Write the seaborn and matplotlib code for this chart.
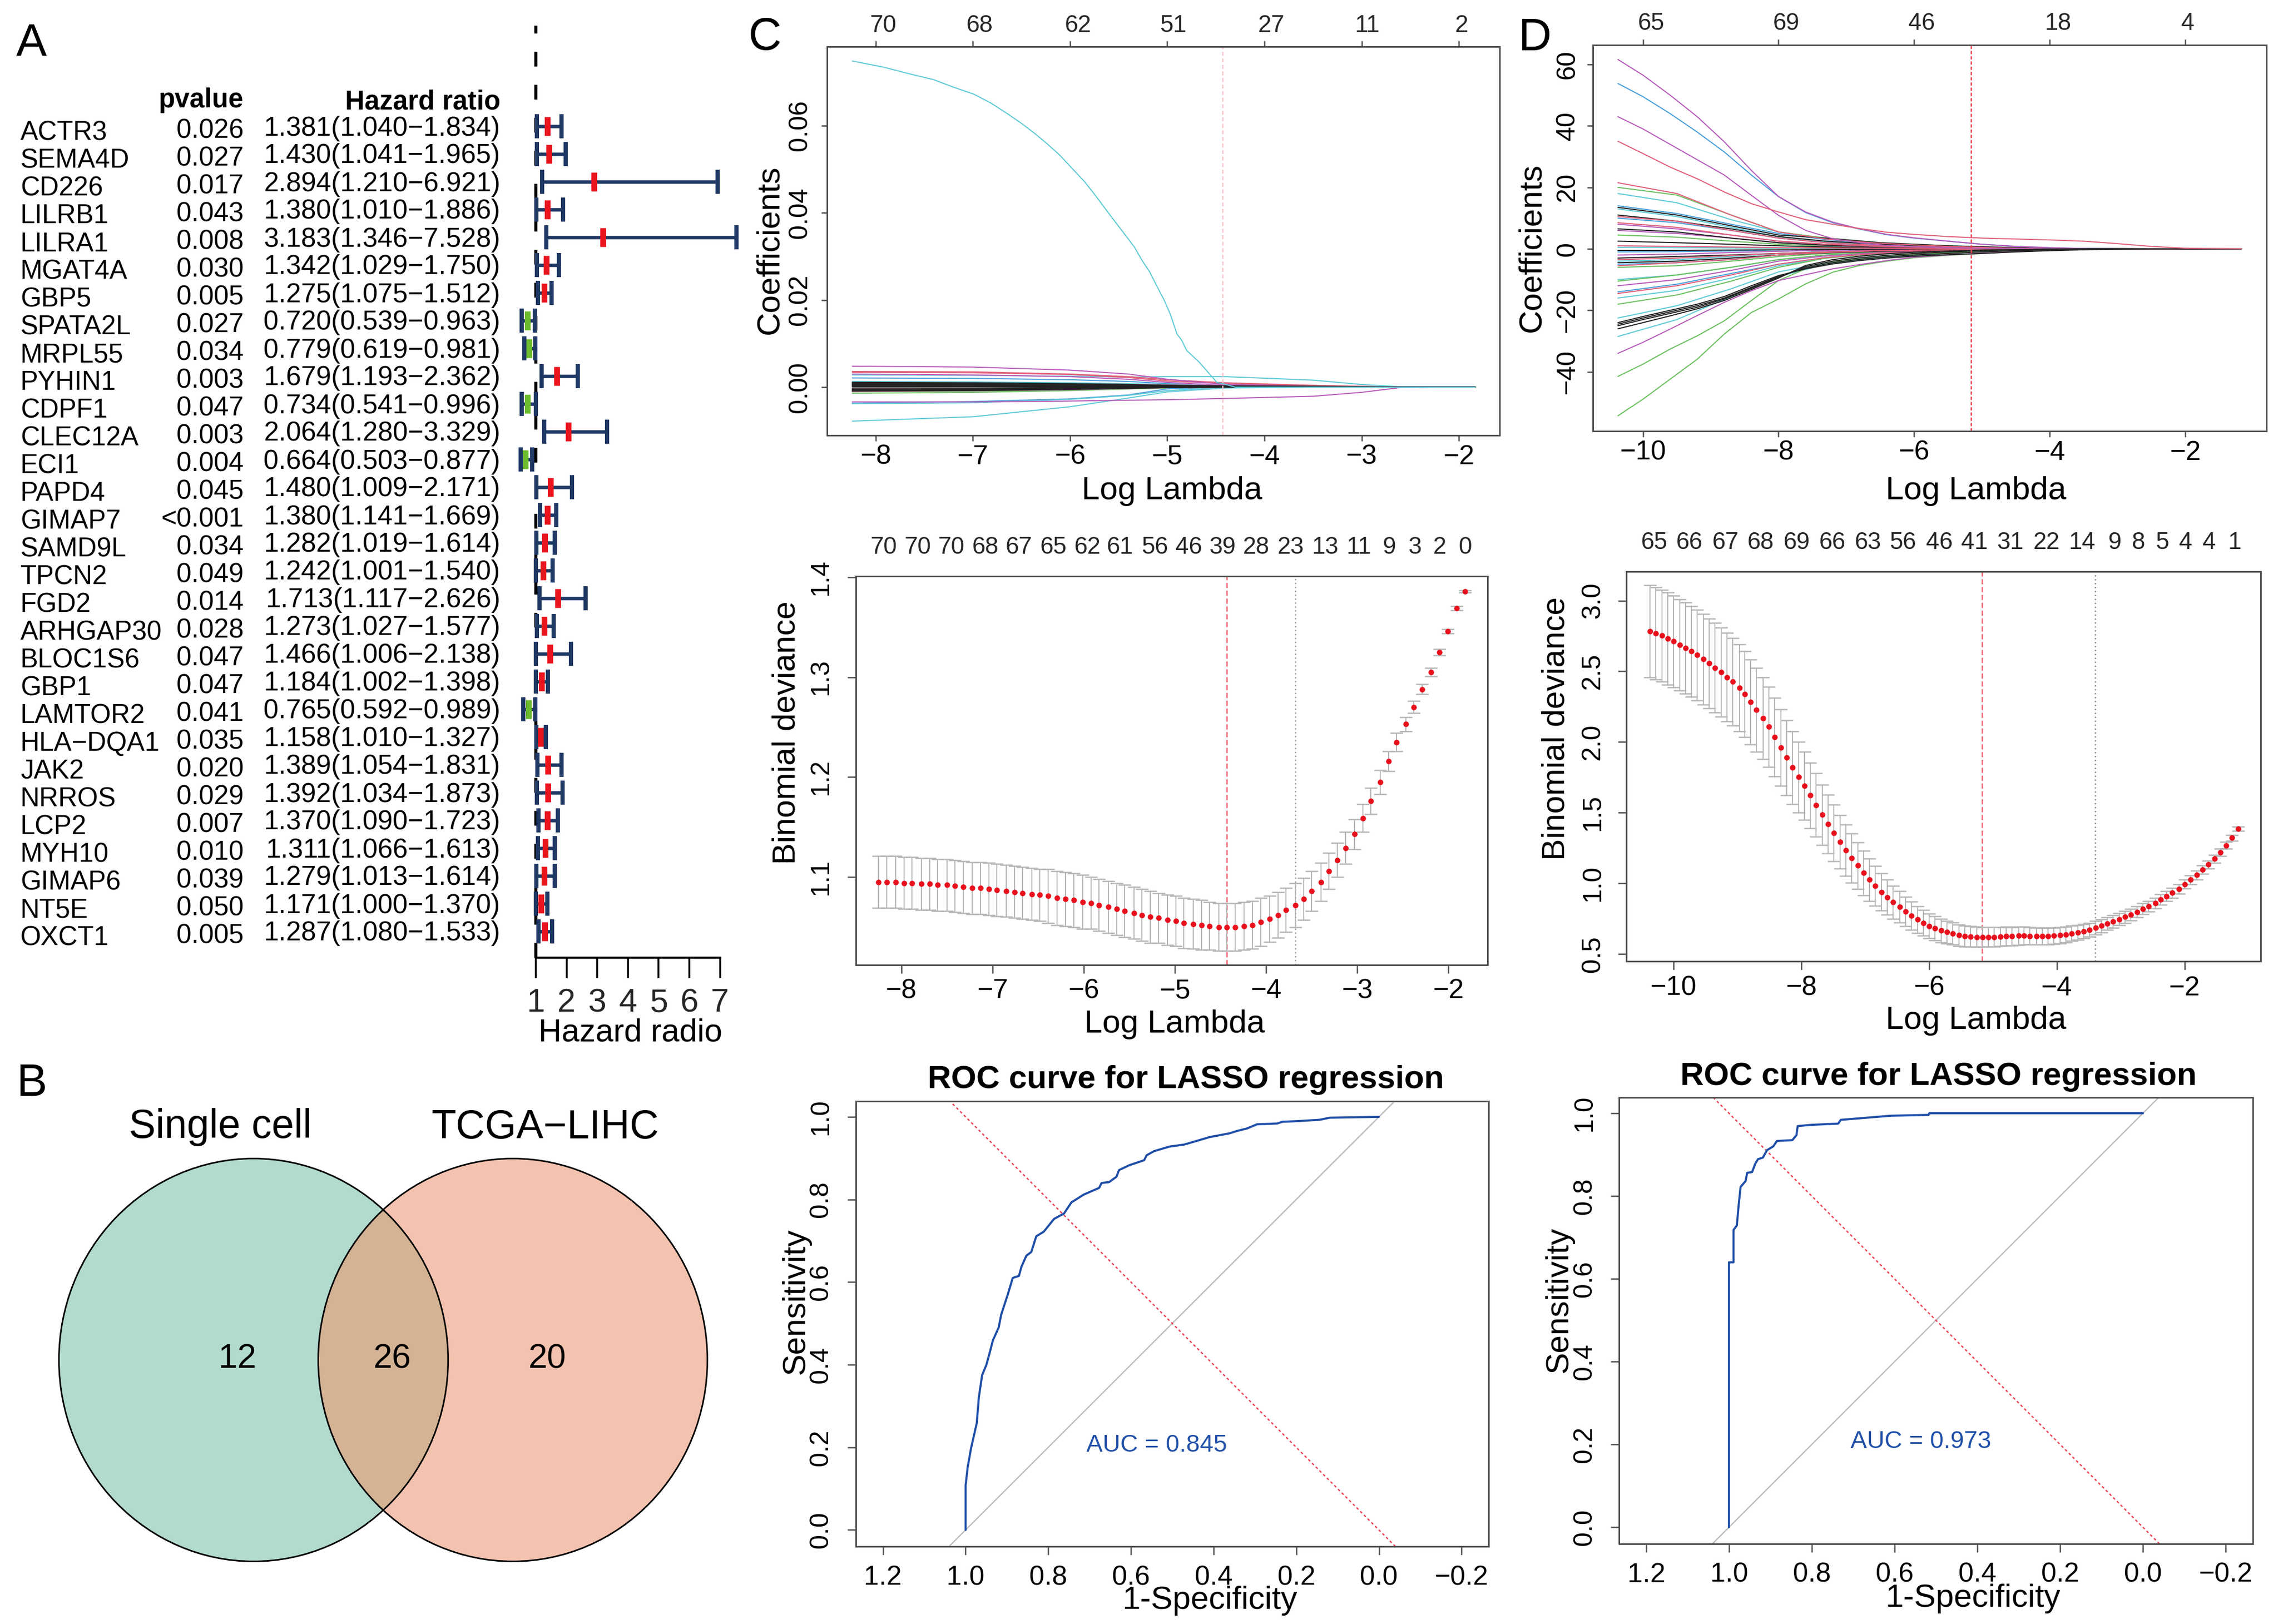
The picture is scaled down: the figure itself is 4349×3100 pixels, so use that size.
import numpy as np
import matplotlib
matplotlib.use('Agg')
import matplotlib.pyplot as plt
from matplotlib.patches import Ellipse
import seaborn as sns

W, H = 4349, 3100
DPI = 300

# Panel A: forest plot
genes = ['ACTR3', 'SEMA4D', 'CD226', 'LILRB1', 'LILRA1', 'MGAT4A', 'GBP5', 'SPATA2L', 'MRPL55', 'PYHIN1',
         'CDPF1', 'CLEC12A', 'ECI1', 'PAPD4', 'GIMAP7', 'SAMD9L', 'TPCN2', 'FGD2', 'ARHGAP30', 'BLOC1S6',
         'GBP1', 'LAMTOR2', 'HLA\u2212DQA1', 'JAK2', 'NRROS', 'LCP2', 'MYH10', 'GIMAP6', 'NT5E', 'OXCT1']
pvalues = ['0.026', '0.027', '0.017', '0.043', '0.008', '0.030', '0.005', '0.027', '0.034', '0.003',
           '0.047', '0.003', '0.004', '0.045', '<0.001', '0.034', '0.049', '0.014', '0.028', '0.047',
           '0.047', '0.041', '0.035', '0.020', '0.029', '0.007', '0.010', '0.039', '0.050', '0.005']
hr = [1.381, 1.430, 2.894, 1.380, 3.183, 1.342, 1.275, 0.720, 0.779, 1.679,
      0.734, 2.064, 0.664, 1.480, 1.380, 1.282, 1.242, 1.713, 1.273, 1.466,
      1.184, 0.765, 1.158, 1.389, 1.392, 1.370, 1.311, 1.279, 1.171, 1.287]
hr_low = [1.040, 1.041, 1.210, 1.010, 1.346, 1.029, 1.075, 0.539, 0.619, 1.193,
          0.541, 1.280, 0.503, 1.009, 1.141, 1.019, 1.001, 1.117, 1.027, 1.006,
          1.002, 0.592, 1.010, 1.054, 1.034, 1.090, 1.066, 1.013, 1.000, 1.080]
hr_high = [1.834, 1.965, 6.921, 1.886, 7.528, 1.750, 1.512, 0.963, 0.981, 2.362,
           0.996, 3.329, 0.877, 2.171, 1.669, 1.614, 1.540, 2.626, 1.577, 2.138,
           1.398, 0.989, 1.327, 1.831, 1.873, 1.723, 1.613, 1.614, 1.370, 1.533]

# Panel B: venn counts
venn_names = ['Single cell', 'TCGA\u2212LIHC']
venn_counts = ['12', '26', '20']

# Panel C: coefficient paths
c_main_lambda = [-8.24, -7.92, -7.66, -7.40, -7.20, -6.99, -6.81, -6.63, -6.50, -6.37, -6.24, -6.11, -5.98, -5.85,
                 -5.73, -5.60, -5.47, -5.34, -5.26, -5.18, -5.11, -5.03, -4.97, -4.90, -4.85, -4.80, -4.67, -4.49,
                 -4.38, -4.30, -1.83]
c_main_coef = [0.0748, 0.0734, 0.0719, 0.0705, 0.0688, 0.0672, 0.0651, 0.0625, 0.0605, 0.0583, 0.0559, 0.0533,
               0.0502, 0.0471, 0.0437, 0.0398, 0.0360, 0.0322, 0.0291, 0.0264, 0.0233, 0.0199, 0.0168, 0.0122,
               0.0107, 0.0084, 0.0057, 0.0011, 0.0005, 0.0, 0.0]
c_lambda = [-8.24, -7, -6, -5.4, -5, -4.4, -3.5, -3, -2.6, -2.2, -1.83]
c_black = [[.0011, .0010, .0008, .0006, .0004, .0003, .0002, .0001, 0, 0, 0],
           [.0009, .0008, .0007, .0005, .0004, .0002, .0001, 0, 0, 0, 0],
           [.0007, .0006, .0005, .0003, .0002, .0001, 0, 0, 0, 0, 0],
           [.0005, .0005, .0004, .0002, .0001, 0, 0, 0, 0, 0, 0],
           [.0003, .0003, .0002, .0001, 0, 0, 0, 0, 0, 0, 0],
           [.0001, .0001, .0001, 0, 0, 0, 0, 0, 0, 0, 0],
           [-.0002, -.0002, -.0001, -.0001, 0, 0, 0, 0, 0, 0, 0],
           [-.0005, -.0004, -.0003, -.0002, -.0001, 0, 0, 0, 0, 0, 0],
           [-.0007, -.0006, -.0004, -.0002, -.0001, 0, 0, 0, 0, 0, 0],
           [-.0009, -.0008, -.0005, -.0003, -.0001, 0, 0, 0, 0, 0, 0]]
c_red = [[.0036, .0035, .0030, .0024, .0017, .0010, .0004, .0002, 0, 0, 0],
         [.0034, .0033, .0029, .0022, .0014, .0008, .0003, .0002, 0, 0, 0],
         [.0009, .0008, .0007, .0006, .0005, .0003, .0002, .0001, 0, 0, 0],
         [.0006, .0005, .0004, .0003, .0002, .0001, 0, 0, 0, 0, 0],
         [.0004, .0004, .0003, .0002, .0001, 0, 0, 0, 0, 0, 0],
         [-.0004, -.0003, -.0002, -.0001, 0, 0, 0, 0, 0, 0, 0],
         [-.0007, -.0006, -.0004, -.0002, -.0001, 0, 0, 0, 0, 0, 0],
         [-.0010, -.0008, -.0005, -.0003, -.0001, 0, 0, 0, 0, 0, 0]]
c_green = [[.0008, .0007, .0006, .0004, .0002, .0001, 0, 0, 0, 0, 0],
           [.0002, .0002, .0001, .0001, 0, 0, 0, 0, 0, 0, 0],
           [-.0006, -.0005, -.0004, -.0002, -.0001, 0, 0, 0, 0, 0, 0],
           [-.0010, -.0009, -.0007, -.0004, -.0002, -.0001, 0, 0, 0, 0, 0],
           [-.0014, -.0012, -.0008, -.0004, -.0002, 0, 0, 0, 0, 0, 0]]
c_blue = [[.0021, .0020, .0017, .0013, .0008, .0002, 0, 0, 0, 0, 0],
          [.0010, .0009, .0007, .0005, .0003, .0001, 0, 0, 0, 0, 0],
          [.0006, .0006, .0005, .0003, .0002, .0001, 0, 0, 0, 0, 0],
          [-.0003, -.0003, -.0002, -.0001, 0, 0, 0, 0, 0, 0, 0],
          [-.0008, -.0007, -.0005, -.0003, -.0001, 0, 0, 0, 0, 0, 0],
          [-.0037, -.0033, -.0027, -.0018, -.0004, 0, 0, 0, 0, 0, 0]]
c_cyan = [[.0028, .0027, .0025, .0023, .0024, .0024, .0016, .0006, .0001, 0, 0],
          [.0013, .0012, .0010, .0008, .0006, .0002, 0, 0, 0, 0, 0],
          [-.0004, -.0004, -.0003, -.0002, -.0001, 0, 0, 0, 0, 0, 0],
          [-.0038, -.0036, -.0028, -.0019, -.0008, -.0001, 0, 0, 0, 0, 0],
          [-.0078, -.0068, -.0045, -.0025, -.0011, -.0002, 0, 0, 0, 0, 0]]
c_magenta = [[.0048, .0046, .0039, .0030, .0018, .0006, .0002, 0, 0, 0, 0],
             [.0030, .0028, .0024, .0018, .0011, .0004, .0001, 0, 0, 0, 0],
             [.0005, .0005, .0004, .0002, .0001, 0, 0, 0, 0, 0, 0],
             [-.0009, -.0008, -.0006, -.0003, -.0001, 0, 0, 0, 0, 0, 0],
             [-.0034, -.0034, -.0032, -.0030, -.0029, -.0026, -.0021, -.0012, -.0001, 0, 0]]
c_top_labels = ['70', '68', '62', '51', '27', '11', '2']
c_top_pos = [-7.92, -6.93, -5.92, -4.94, -3.93, -2.94, -1.97]

# Panel D: coefficient paths, the far out paths read on a finer grid
d_fine_lambda = [-10.37, -10, -9.6, -9.2, -8.8, -8.4, -8, -7.6, -7.2, -6.8, -6.4, -6, -5.5, -5, -4.5, -4, -3.5, -3,
                 -2.5, -2, -1.17]
d_fine_magenta = [[61.6, 56.5, 50, 43, 34.8, 25.5, 17, 12, 8.7, 6.5, 4.7, 3.6, 2.5, 1.5, .8, .4, .1, 0, 0, 0, 0],
                  [43, 39, 34, 29, 24, 17.4, 10.9, 6, 3.3, 2, 1.1, .7, .4, .2, .1, 0, 0, 0, 0, 0, 0],
                  [-34, -30.4, -26.1, -21.7, -17.4, -13.6, -10.3, -8.4, -6.5, -5.1, -3.8, -2.7, -2, -1.4, -.9, -.5,
                   -.2, 0, 0, 0, 0]]
d_fine_blue = [[53.8, 49.5, 44, 38, 31.5, 24, 17, 11.8, 8.5, 6.4, 4.6, 3.5, 2.5, 1.5, .8, .4, .1, 0, 0, 0, 0]]
d_fine_red = [[35, 31, 26.6, 22.8, 18.5, 14.7, 12, 9.5, 8, 6.6, 5.4, 4.7, 4, 3.5, 3.2, 2.9, 2.5, 1.7, .8, .2, 0]]
d_fine_green = [[-54.3, -48.9, -42.4, -35.9, -27.7, -20.7, -16.3, -11.4, -7.6, -5.4, -4, -2.9, -2.1, -1.5, -.9, -.5,
                 -.2, 0, 0, 0, 0],
                [-41.5, -37.5, -32.6, -28.3, -23.4, -16.8, -10.3, -6.5, -4.3, -3.3, -2.5, -1.8, -1.3, -.9, -.5,
                 -.3, -.1, 0, 0, 0, 0]]
d_fine_black = [[-24, -22, -20, -18, -15.5, -12, -8.7, -6.5, -4.9, -3.8, -3, -2.4, -1.9, -1.5, -1, -.6, -.3, -.1, 0, 0, 0],
                [-24.5, -22.5, -20.5, -18.5, -16, -12.5, -9, -6.2, -4.5, -3.4, -2.6, -2, -1.5, -1, -.6, -.3, -.1, 0, 0, 0, 0],
                [-25, -23, -21, -19, -16.3, -12.8, -9.2, -5.8, -4, -2.9, -2.1, -1.5, -1, -.6, -.3, -.1, 0, 0, 0, 0, 0],
                [-26, -24, -21.8, -19.5, -16.8, -13.2, -9.5, -5.4, -3.5, -2.4, -1.6, -1.1, -.7, -.4, -.2, -.1, 0, 0, 0, 0, 0]]
d_lambda = [-10.37, -9.5, -8.7, -8, -7.3, -6.5, -5.5, -4.5, -3.5, -2.5, -1.17]
d_black = [[13.5, 11, 7.5, 4.5, 3.5, 2, 1, .4, .1, 0, 0],
           [11, 9, 6.5, 4, 2.5, 1.5, .8, .3, .1, 0, 0],
           [6.5, 5.5, 3.5, 2, 1.2, .7, .3, .1, 0, 0, 0],
           [2.5, 2, 1.5, 1, .6, .3, .1, 0, 0, 0, 0],
           [-.5, -.5, -.4, -.3, -.2, -.1, 0, 0, 0, 0, 0],
           [-3, -2.5, -2, -1.5, -1, -.6, -.3, -.1, 0, 0, 0],
           [-4.5, -4, -3, -2, -1.3, -.8, -.4, -.2, 0, 0, 0]]
d_red = [[21.5, 18, 11, 5.5, 3.2, 1.8, .8, .2, 0, 0, 0],
         [10.5, 9, 6, 3.5, 2, 1.1, .5, .1, 0, 0, 0],
         [8.5, 7, 4.5, 2.5, 1.5, .8, .3, .1, 0, 0, 0],
         [1, .8, .6, .4, .3, .2, .1, 0, 0, 0, 0],
         [-3.5, -3, -2.2, -1.5, -1, -.6, -.3, -.1, 0, 0, 0],
         [-5.5, -4.5, -3.5, -2, -1.2, -.6, -.3, -.1, 0, 0, 0],
         [-14.5, -12, -8.5, -5, -2.8, -1.4, -.6, -.2, 0, 0, 0]]
d_green = [[20, 17.5, 11, 5.5, 3.5, 2, 1, .3, 0, 0, 0],
           [4.5, 3.8, 2.5, 1.5, .9, .4, .2, 0, 0, 0, 0],
           [-6, -5.5, -4, -2.5, -1.5, -.8, -.3, -.1, 0, 0, 0],
           [-10.5, -8.5, -6, -3.5, -2, -1, -.4, -.1, 0, 0, 0],
           [-18, -15, -10.5, -6, -3, -1.5, -.6, -.2, 0, 0, 0]]
d_blue = [[14, 11.5, 8, 5, 3, 1.6, .7, .2, 0, 0, 0],
          [10, 8.5, 6, 3.5, 2, 1, .4, .1, 0, 0, 0],
          [-1, -.9, -.7, -.4, -.3, -.1, 0, 0, 0, 0, 0],
          [-5, -4.5, -3.5, -2, -1.2, -.6, -.2, 0, 0, 0, 0],
          [-14, -11.5, -8, -5, -2.8, -1.5, -.6, -.1, 0, 0, 0]]
d_cyan = [[18, 15, 9.5, 5.5, 3.2, 1.8, .8, .2, 0, 0, 0],
          [13, 10.5, 7, 4, 2.3, 1.2, .5, .1, 0, 0, 0],
          [.5, .4, .3, .2, .1, 0, 0, 0, 0, 0, 0],
          [-4, -3.5, -2.5, -1.5, -.9, -.5, -.2, 0, 0, 0, 0],
          [-10, -8.5, -6, -3.5, -2, -1, -.4, -.1, 0, 0, 0],
          [-16, -13.5, -9.5, -5.5, -3, -1.5, -.6, -.2, 0, 0, 0],
          [-22.5, -18.5, -13, -7.5, -4.5, -2.5, -1.2, -.4, 0, 0, 0],
          [-28.5, -23, -15.5, -9, -5, -2.8, -1.4, -.5, -.1, 0, 0]]
d_magenta = [[8, 6.5, 4.5, 2.5, 1.5, .8, .3, .1, 0, 0, 0],
             [6, 5, 3.5, 2, 1.1, .6, .2, 0, 0, 0, 0],
             [-2, -1.7, -1.2, -.8, -.5, -.3, -.1, 0, 0, 0, 0],
             [-12, -10, -7, -4, -2.3, -1.2, -.5, -.1, 0, 0, 0]]
d_top_labels = ['65', '69', '46', '18', '4']
d_top_pos = [-9.88, -7.89, -5.89, -3.88, -1.96]

# Cross validation curves
c_cv_lambda = [-8.25, -8.16, -8.06, -7.97, -7.88, -7.78, -7.69, -7.60, -7.50, -7.41,
               -7.32, -7.22, -7.13, -7.04, -6.95, -6.85, -6.76, -6.67, -6.57, -6.48,
               -6.39, -6.29, -6.20, -6.11, -6.01, -5.92, -5.83, -5.73, -5.64, -5.55,
               -5.45, -5.36, -5.27, -5.18, -5.08, -4.99, -4.90, -4.80, -4.71, -4.62,
               -4.52, -4.43, -4.34, -4.24, -4.15, -4.06, -3.96, -3.87, -3.78, -3.68,
               -3.59, -3.50, -3.40, -3.31, -3.22, -3.13, -3.03, -2.94, -2.85, -2.75,
               -2.66, -2.57, -2.47, -2.38, -2.29, -2.19, -2.10, -2.01, -1.91, -1.82]
c_cv_dev = [1.095, 1.095, 1.095, 1.094, 1.094, 1.093, 1.093, 1.092, 1.092, 1.091,
            1.090, 1.089, 1.089, 1.088, 1.087, 1.086, 1.085, 1.084, 1.083, 1.082,
            1.081, 1.079, 1.078, 1.077, 1.075, 1.074, 1.072, 1.070, 1.068, 1.066,
            1.064, 1.062, 1.060, 1.059, 1.057, 1.056, 1.054, 1.053, 1.052, 1.051,
            1.050, 1.050, 1.050, 1.051, 1.052, 1.055, 1.058, 1.062, 1.067, 1.072,
            1.078, 1.086, 1.095, 1.106, 1.117, 1.129, 1.143, 1.159, 1.176, 1.195,
            1.216, 1.235, 1.253, 1.270, 1.288, 1.305, 1.325, 1.346, 1.369, 1.386]
c_cv_se = [.026, .026, .026, .026, .026, .026, .026, .026, .026, .026,
           .026, .026, .026, .026, .026, .026, .026, .026, .026, .026,
           .027, .027, .027, .027, .027, .026, .026, .026, .026, .026,
           .026, .026, .026, .025, .025, .025, .025, .025, .025, .024,
           .024, .024, .024, .024, .024, .024, .023, .023, .022, .022,
           .021, .020, .019, .018, .017, .016, .015, .014, .013, .012,
           .010, .009, .007, .006, .005, .004, .003, .002, .002, .001]
c_cv_labels = ['70', '70', '70', '68', '67', '65', '62', '61', '56', '46', '39', '28', '23', '13', '11', '9', '3', '2', '0']
c_cv_label_pos = [-8.19, -7.82, -7.45, -7.08, -6.71, -6.33, -5.96, -5.60, -5.22, -4.85,
                  -4.48, -4.11, -3.73, -3.35, -2.98, -2.65, -2.37, -2.10, -1.82]

d_cv_lambda = [-10.37, -10.28, -10.18, -10.09, -10.00, -9.90, -9.81, -9.72, -9.63, -9.53,
               -9.44, -9.35, -9.25, -9.16, -9.07, -8.97, -8.88, -8.79, -8.70, -8.60,
               -8.51, -8.42, -8.32, -8.23, -8.14, -8.04, -7.95, -7.86, -7.77, -7.67,
               -7.58, -7.49, -7.39, -7.30, -7.21, -7.11, -7.02, -6.93, -6.84, -6.74,
               -6.65, -6.56, -6.46, -6.37, -6.28, -6.18, -6.09, -6.00, -5.91, -5.81,
               -5.72, -5.63, -5.53, -5.44, -5.35, -5.25, -5.16, -5.07, -4.98, -4.88,
               -4.79, -4.70, -4.60, -4.51, -4.42, -4.32, -4.23, -4.14, -4.05, -3.95,
               -3.86, -3.77, -3.67, -3.58, -3.49, -3.39, -3.30, -3.21, -3.12, -3.02,
               -2.93, -2.84, -2.74, -2.65, -2.56, -2.46, -2.37, -2.28, -2.19, -2.09,
               -2.00, -1.91, -1.81, -1.72, -1.63, -1.53, -1.44, -1.35, -1.26, -1.16]
d_cv_dev = [2.783, 2.768, 2.752, 2.731, 2.712, 2.688, 2.664, 2.641, 2.615, 2.586,
            2.556, 2.525, 2.494, 2.459, 2.426, 2.383, 2.338, 2.282, 2.227, 2.168,
            2.107, 2.034, 1.960, 1.889, 1.819, 1.752, 1.689, 1.622, 1.554, 1.485,
            1.419, 1.355, 1.294, 1.235, 1.178, 1.126, 1.074, 1.025, 0.982, 0.939,
            .902, .866, .833, .800, .769, .743, .720, .698, .682, .665,
            .654, .644, .632, .625, .623, .620, .620, .620, .620, .623,
            .625, .625, .628, .628, .627, .626, .626, .627, .628, .632,
            .637, .645, .652, .660, .672, .685, .699, .715, .731, .746,
            .762, .779, .798, .819, .838, .859, .885, .909, .932, .961,
            .994, 1.025, 1.058, 1.096, 1.133, 1.173, 1.218, 1.268, 1.322, 1.386]
d_cv_se = [.325, .325, .325, .325, .324, .323, .322, .322, .321, .320,
           .318, .316, .314, .312, .310, .307, .304, .300, .296, .290,
           .285, .279, .272, .265, .258, .250, .241, .232, .224, .213,
           .207, .200, .189, .182, .175, .165, .158, .150, .140, .130,
           .124, .117, .111, .105, .100, .095, .091, .087, .084, .082,
           .080, .078, .076, .074, .072, .071, .070, .069, .068, .067,
           .066, .065, .064, .063, .062, .061, .060, .059, .058, .057,
           .056, .054, .052, .050, .048, .047, .046, .045, .044, .043,
           .042, .041, .040, .039, .038, .037, .036, .035, .034, .033,
           .032, .031, .030, .029, .028, .027, .026, .024, .020, .014]
d_cv_labels = ['65', '66', '67', '68', '69', '66', '63', '56', '46', '41', '31', '22', '14', '9', '8', '5', '4', '4', '1']
d_cv_label_pos = [-10.30, -9.75, -9.19, -8.64, -8.07, -7.51, -6.96, -6.41, -5.84, -5.29,
                  -4.73, -4.16, -3.60, -3.09, -2.72, -2.35, -1.98, -1.61, -1.22]

# ROC curves
c_roc_x = [1.000, 1.000, 0.995, 0.987, 0.973, 0.968, 0.960, 0.950, 0.942, 0.934, 0.920, 0.914, 0.898, 0.886, 0.871,
           0.865, 0.853, 0.841, 0.829, 0.811, 0.786, 0.762, 0.744, 0.714, 0.677, 0.671, 0.653, 0.635, 0.629, 0.604,
           0.568, 0.562, 0.544, 0.507, 0.471, 0.447, 0.410, 0.362, 0.343, 0.319, 0.295, 0.246, 0.234, 0.192, 0.143,
           0.119, 0.000]
c_roc_y = [0.000, 0.108, 0.152, 0.197, 0.259, 0.321, 0.375, 0.399, 0.428, 0.459, 0.490, 0.521, 0.570, 0.610, 0.615,
           0.637, 0.664, 0.673, 0.711, 0.722, 0.753, 0.766, 0.793, 0.812, 0.828, 0.840, 0.842, 0.855, 0.871, 0.883,
           0.895, 0.907, 0.917, 0.928, 0.933, 0.940, 0.951, 0.960, 0.966, 0.972, 0.982, 0.984, 0.988, 0.990, 0.993,
           0.998, 1.000]
d_roc_x = [1.000, 1.000, 0.989, 0.989, 0.981, 0.977, 0.972, 0.960, 0.956, 0.944, 0.937, 0.930, 0.918, 0.908, 0.893,
           0.884, 0.847, 0.837, 0.834, 0.801, 0.736, 0.730, 0.682, 0.609, 0.518, 0.516, 0.000]
d_roc_y = [0.000, 0.640, 0.640, 0.718, 0.729, 0.774, 0.822, 0.836, 0.856, 0.858, 0.877, 0.889, 0.893, 0.911, 0.920,
           0.933, 0.935, 0.947, 0.969, 0.972, 0.975, 0.984, 0.988, 0.994, 0.996, 1.000, 1.000]
roc_ticks = [1.2, 1.0, 0.8, 0.6, 0.4, 0.2, 0.0, -0.2]
roc_labels = ['1.2', '1.0', '0.8', '0.6', '0.4', '0.2', '0.0', '\u22120.2']
roc_y_ticks = [0.0, 0.2, 0.4, 0.6, 0.8, 1.0]
roc_y_labels = ['0.0', '0.2', '0.4', '0.6', '0.8', '1.0']


sns.set_theme(style='white')
plt.rcParams['font.family'] = ['Liberation Sans', 'DejaVu Sans']
plt.rcParams['axes.unicode_minus'] = True

fig = plt.figure(figsize=(W / DPI, H / DPI), dpi=DPI, facecolor='white')

PT = 72 / DPI  # one pixel in points
EDGE = '#4d4d4d'
COLOURS = {'black': '#222222', 'red': '#E0607A', 'green': '#6CC060',
           'blue': '#4A9FDC', 'cyan': '#5FCAD6', 'magenta': '#B75CBA'}


def px_axes(left, top, right, bottom):
    return fig.add_axes([left / W, 1 - bottom / H, (right - left) / W, (bottom - top) / H])


def ptext(x, y, s, size=14.9, **kw):
    kw.setdefault('ha', 'center')
    kw.setdefault('va', 'center')
    # matplotlib centres on the box with descender, so nudge to the glyphs
    if kw.get('rotation'):
        x += 3
    else:
        y += 6
    fig.text(x / W, 1 - y / H, s, fontsize=size, color=kw.pop('color', 'black'), **kw)


def box_style(ax, top_ticks=False, tick_len=11, xpad=6, ypad=18):
    for sp in ax.spines.values():
        sp.set_visible(True)
        sp.set_color(EDGE)
        sp.set_linewidth(3 * PT)
    ax.tick_params(axis='both', which='major', length=tick_len * PT, width=2.5 * PT, color=EDGE,
                   bottom=True, left=True, top=top_ticks, labeltop=False, labelcolor='black')
    ax.tick_params(axis='x', labelsize=12.5, pad=xpad * PT)
    ax.tick_params(axis='y', labelsize=12, pad=ypad * PT)
    for lab in ax.get_yticklabels():
        lab.set_rotation(90)
        lab.set_va('center')
    ax.set_xlabel('')
    ax.set_ylabel('')


def top_labels(ax, top_px, bottom_px, y_px, positions, labels):
    frac = (bottom_px - y_px - 4) / (bottom_px - top_px)
    for pos, lab in zip(positions, labels):
        ax.text(pos, frac, lab, transform=ax.get_xaxis_transform(), ha='center', va='center',
                fontsize=11, clip_on=False)


def draw_paths(ax, lam, rows, colour):
    for row in rows:
        sns.lineplot(x=lam, y=row, ax=ax, color=colour, lw=0.5, estimator=None, sort=False,
                     errorbar=None, legend=False)


def draw_cv(ax, lam, dev, se):
    ax.errorbar(lam, dev, yerr=se, fmt='none', ecolor='#b5b5b5', elinewidth=2 * PT,
                capsize=12 * PT, capthick=2.5 * PT)
    sns.scatterplot(x=lam, y=dev, ax=ax, color='#E8101C', s=6.5, linewidth=0, legend=False, zorder=3)


def draw_roc(ax, xs, ys, auc, auc_x, auc_y, ypad):
    ax.axline((1, 0), (0, 1), color='#bdbdbd', lw=2.5 * PT)
    ax.axline((0, 0), (1, 1), color='#F04050', lw=2.5 * PT, ls=(0, (2, 2)))
    sns.lineplot(x=xs, y=ys, ax=ax, color='#1F4EA8', lw=4 * PT, estimator=None, sort=False,
                 errorbar=None, legend=False)
    ax.text(auc_x, auc_y, auc, color='#2050A8', fontsize=11.2, ha='center', va='center')
    ax.set_xlim(1.2655, -0.2655)
    ax.set_ylim(-0.04, 1.038)
    ax.set_xticks(roc_ticks, roc_labels)
    ax.set_yticks(roc_y_ticks, roc_y_labels)
    box_style(ax, tick_len=16, xpad=19, ypad=ypad)


# Panel A
ax = px_axes(980, 49, 1420, 1828)
ax.set_xlim(0.266, 7.775)
ax.set_ylim(29.94, -3.62)
rows = np.arange(len(genes))
ax.axvline(1, color='black', lw=6 * PT, ls=(0, (4.7, 5.8)), zorder=2)
ax.hlines(rows, hr_low, hr_high, color='#1F3864', lw=6.5 * PT, zorder=3)
ax.vlines(hr_low, rows - 0.43, rows + 0.43, color='#1F3864', lw=8 * PT, zorder=3)
ax.vlines(hr_high, rows - 0.43, rows + 0.43, color='#1F3864', lw=8 * PT, zorder=3)
mark_colours = ['#E8141E' if v > 1 else '#6CBB2E' for v in hr]
ax.vlines(hr, rows - 0.34, rows + 0.34, color=mark_colours, lw=11 * PT, zorder=4)
sns.despine(ax=ax, left=True, top=True, right=True)
ax.spines['bottom'].set_bounds(1, 7)
ax.spines['bottom'].set_color('black')
ax.spines['bottom'].set_linewidth(4 * PT)
ax.set_xticks(range(1, 8))
ax.set_yticks([])
ax.tick_params(axis='x', length=39 * PT, width=3.5 * PT, color='black', bottom=True, labelsize=15, pad=18 * PT)
ax.patch.set_alpha(0)

for i, gene in enumerate(genes):
    row_px = 241 + 53.0 * i
    ptext(39, row_px + 7, gene, size=12.2, ha='left')
    ptext(465, row_px + 3, pvalues[i], size=12.3, ha='right')
    ptext(955, row_px - 2, f'{hr[i]:.3f}({hr_low[i]:.3f}\u2212{hr_high[i]:.3f})', size=12.4, ha='right')
ptext(465, 186, 'pvalue', size=12.3, ha='right', fontweight='bold')
ptext(955, 189, 'Hazard ratio', size=12.3, ha='right', fontweight='bold')
ptext(1203, 1966, 'Hazard radio', size=14.7)

# Panel B
ax = px_axes(100, 2200, 1364, 2992)
ax.set_xlim(100, 1364)
ax.set_ylim(2992, 2200)
ax.axis('off')
left_e = Ellipse((484, 2596), 743, 769, facecolor='#B2DACE', edgecolor='none')
right_e = Ellipse((979, 2596), 743, 769, facecolor='#F4C3B0', edgecolor='none')
ax.add_patch(left_e)
ax.add_patch(right_e)
overlap = Ellipse((979, 2596), 743, 769, facecolor='#D4B395', edgecolor='none')
ax.add_patch(overlap)
overlap.set_clip_path(left_e)
for cx in (484, 979):
    ax.add_patch(Ellipse((cx, 2596), 743, 769, facecolor='none', edgecolor='black', lw=3 * PT))
ptext(421, 2146, venn_names[0], size=18.4)
ptext(1041, 2146, venn_names[1], size=18.5)
for cnt, cx in zip(venn_counts, (453, 749, 1045)):
    ptext(cx, 2588, cnt, size=15.6)

# Panel C top
ax = px_axes(1579, 89, 2863, 831)
draw_paths(ax, c_lambda, c_green, COLOURS['green'])
draw_paths(ax, c_lambda, c_blue, COLOURS['blue'])
draw_paths(ax, c_lambda, c_cyan, COLOURS['cyan'])
draw_paths(ax, c_lambda, c_red, COLOURS['red'])
draw_paths(ax, c_lambda, c_magenta, COLOURS['magenta'])
draw_paths(ax, c_lambda, c_black, COLOURS['black'])
draw_paths(ax, c_main_lambda, [c_main_coef], COLOURS['cyan'])
ax.axvline(-4.43, color='#F6C4CC', lw=2.5 * PT, ls=(0, (3, 2)))
ax.set_xlim(-8.50, -1.58)
ax.set_ylim(-0.01106, 0.0781)
ax.set_xticks([-8, -7, -6, -5, -4, -3, -2])
ax.set_yticks([0, 0.02, 0.04, 0.06], ['0.00', '0.02', '0.04', '0.06'])
box_style(ax, top_ticks=True, ypad=18)
top_labels(ax, 89, 831, 45, c_top_pos, c_top_labels)
ptext(1467, 477, 'Coefficients', rotation=90)
ptext(2237, 932, 'Log Lambda')

# Panel D top
ax = px_axes(3041, 86, 4327, 823)
draw_paths(ax, d_lambda, d_blue, COLOURS['blue'])
draw_paths(ax, d_lambda, d_cyan, COLOURS['cyan'])
draw_paths(ax, d_lambda, d_green, COLOURS['green'])
draw_paths(ax, d_lambda, d_magenta, COLOURS['magenta'])
draw_paths(ax, d_lambda, d_black, COLOURS['black'])
draw_paths(ax, d_lambda, d_red, COLOURS['red'])
draw_paths(ax, d_fine_lambda, d_fine_blue, COLOURS['blue'])
draw_paths(ax, d_fine_lambda, d_fine_green, COLOURS['green'])
draw_paths(ax, d_fine_lambda, d_fine_magenta, COLOURS['magenta'])
draw_paths(ax, d_fine_lambda, d_fine_black, COLOURS['black'])
draw_paths(ax, d_fine_lambda, d_fine_red, COLOURS['red'])
ax.axvline(-5.16, color='#F04050', lw=2.5 * PT, ls=(0, (2.5, 1.5)))
ax.set_xlim(-10.74, -0.80)
ax.set_ylim(-59.3, 66.3)
ax.set_xticks([-10, -8, -6, -4, -2])
ax.set_yticks([-40, -20, 0, 20, 40, 60])
box_style(ax, top_ticks=True, ypad=14)
top_labels(ax, 86, 823, 41, d_top_pos, d_top_labels)
ptext(2922, 473, 'Coefficients', rotation=90)
ptext(3772, 932, 'Log Lambda')

# Panel C middle
ax = px_axes(1634, 1100, 2840, 1842)
ax.axvline(-4.43, color='#F06070', lw=2.5 * PT, ls=(0, (4, 2)))
ax.axvline(-3.68, color='#999999', lw=2.5 * PT, ls=(0, (1, 2)))
draw_cv(ax, c_cv_lambda, c_cv_dev, c_cv_se)
ax.set_xlim(-8.497, -1.572)
ax.set_ylim(1.012, 1.401)
ax.set_xticks([-8, -7, -6, -5, -4, -3, -2])
ax.set_yticks([1.1, 1.2, 1.3, 1.4], ['1.1', '1.2', '1.3', '1.4'])
box_style(ax, tick_len=16, xpad=9, ypad=28)
top_labels(ax, 1100, 1842, 1041, c_cv_label_pos, c_cv_labels)
ptext(1499, 1399, 'Binomial deviance', rotation=90)
ptext(2242, 1950, 'Log Lambda')

# Panel D middle
ax = px_axes(3105, 1091, 4316, 1835)
ax.axvline(-5.17, color='#F06070', lw=2.5 * PT, ls=(0, (4, 2)))
ax.axvline(-3.40, color='#888888', lw=2.5 * PT, ls=(0, (1, 2)))
draw_cv(ax, d_cv_lambda, d_cv_dev, d_cv_se)
ax.set_xlim(-10.737, -0.808)
ax.set_ylim(0.448, 3.206)
ax.set_xticks([-10, -8, -6, -4, -2])
ax.set_yticks([0.5, 1.0, 1.5, 2.0, 2.5, 3.0], ['0.5', '1.0', '1.5', '2.0', '2.5', '3.0'])
box_style(ax, tick_len=16, xpad=11, ypad=25)
top_labels(ax, 1091, 1835, 1032, d_cv_label_pos, d_cv_labels)
ptext(2968, 1391, 'Binomial deviance', rotation=90)
ptext(3772, 1943, 'Log Lambda')

# ROC panels
ax = px_axes(1634, 2102, 2842, 2952)
draw_roc(ax, c_roc_x, c_roc_y, 'AUC = 0.845', 0.537, 0.205, 28)
ptext(2264, 2055, 'ROC curve for LASSO regression', fontweight='bold')
ptext(1517, 2484, 'Sensitivity', rotation=90)
ptext(2309, 3050, '1-Specificity')

ax = px_axes(3091, 2095, 4301, 2947)
draw_roc(ax, d_roc_x, d_roc_y, 'AUC = 0.973', 0.536, 0.207, 27)
ptext(3701, 2049, 'ROC curve for LASSO regression', fontweight='bold')
ptext(2974, 2481, 'Sensitivity', rotation=90)
ptext(3766, 3046, '1-Specificity')

# Panel letters
ptext(60, 79, 'A', size=21)
ptext(61, 2063, 'B', size=21)
ptext(1460, 67, 'C', size=21)
ptext(2930, 67, 'D', size=21)

fig.savefig('out.png', dpi=DPI, facecolor='white')
